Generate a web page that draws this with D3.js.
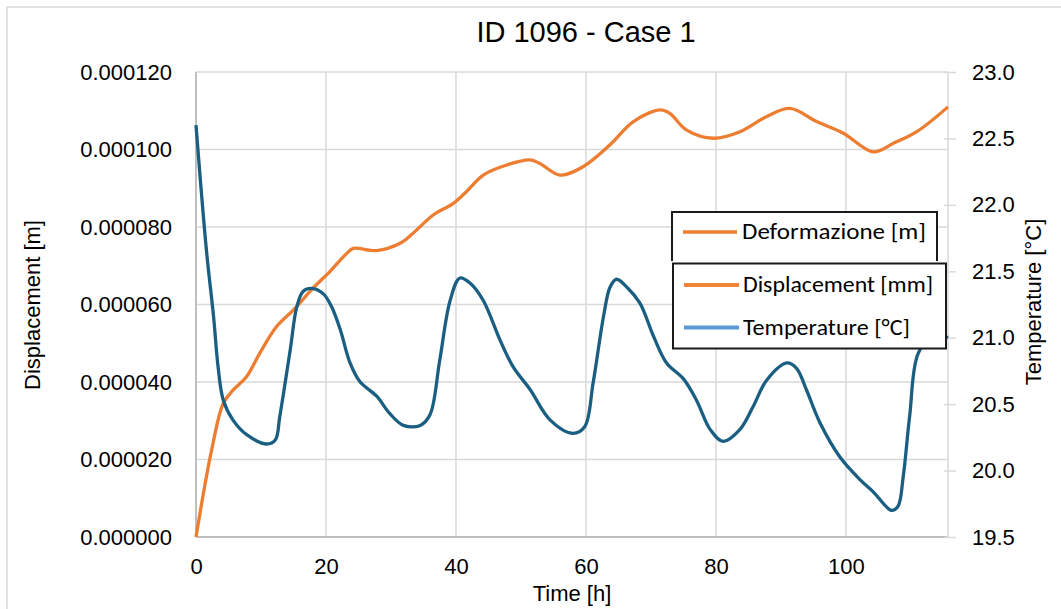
<!DOCTYPE html>
<html>
<head>
<meta charset="utf-8">
<script src="https://cdn.jsdelivr.net/npm/d3@7"></script>
<style>
  body { margin: 0; background: #fff; }
  svg text { font-family: "Liberation Sans", Arial, sans-serif; fill: #000; }
  .legend text { font-family: Carlito, Lato, "Open Sans", sans-serif; }
</style>
</head>
<body>
<svg id="chart" width="1061" height="609"></svg>
<script>
// time [h] and displacement [m]
let dispTime = [0, 2.4, 4.2, 5.7, 7.8, 9.8, 12.4, 15.0, 18.0, 20.6, 23.2, 24.2, 27.8, 31.4, 33.4, 36.5,
  39.6, 41.6, 44.2, 47.8, 51.4, 52.9, 56.0, 59.6, 63.7, 67.3, 71.4, 72.9, 75.5, 79.6, 83.7, 87.8,
  91.4, 95.5, 99.6, 104.2, 107.3, 110.9, 115.7];
let dispValues = [0, 22.4e-6, 34.5e-6, 37.9e-6, 41.4e-6, 47.4e-6, 54.3e-6, 58.6e-6, 64.2e-6, 68.5e-6,
  73.2e-6, 74.5e-6, 73.9e-6, 75.8e-6, 78.4e-6, 83.1e-6, 86.1e-6, 89.1e-6, 93.4e-6, 96.0e-6, 97.3e-6,
  96.4e-6, 93.4e-6, 95.6e-6, 101.2e-6, 107.2e-6, 110.2e-6, 109.3e-6, 105.0e-6, 102.9e-6, 104.6e-6,
  108.5e-6, 110.6e-6, 107.2e-6, 104.2e-6, 99.4e-6, 101.6e-6, 104.6e-6, 111.0e-6];

// time [h] and temperature [°C]
let tempTime = [0, 1.6, 2.7, 3.4, 4.2, 5.7, 7.8, 10.9, 12.2, 12.9, 14.5, 15.5, 16.5, 18.0, 19.6, 20.9,
  22.2, 23.7, 25.2, 27.8, 29.8, 31.9, 34.5, 36.0, 37.5, 39.1, 40.6, 42.2, 44.2, 46.8, 48.8, 51.4,
  54.5, 58.0, 59.8, 61.1, 62.7, 63.7, 64.7, 66.3, 68.3, 70.4, 72.4, 75.0, 77.0, 79.1, 81.1, 83.7,
  85.7, 87.8, 90.9, 92.4, 93.9, 96.0, 99.1, 102.2, 104.2, 107.0, 108.0, 108.8, 109.8, 111.1, 113.5, 115.7];
let tempValues = [22.60, 21.66, 21.16, 20.78, 20.53, 20.38, 20.27, 20.20, 20.23, 20.41, 20.91, 21.23,
  21.35, 21.37, 21.33, 21.23, 21.06, 20.81, 20.67, 20.56, 20.43, 20.34, 20.34, 20.42, 20.83, 21.28,
  21.45, 21.41, 21.28, 20.98, 20.78, 20.61, 20.38, 20.28, 20.33, 20.66, 21.16, 21.38, 21.44, 21.38,
  21.26, 21.01, 20.81, 20.69, 20.53, 20.31, 20.22, 20.31, 20.48, 20.68, 20.81, 20.77, 20.61, 20.36,
  20.10, 19.93, 19.84, 19.70, 19.73, 19.95, 20.41, 20.88, 21.02, 21.0];

let xTicks = [0, 20, 40, 60, 80, 100];
let leftTicks = [0, 0.00002, 0.00004, 0.00006, 0.00008, 0.0001, 0.00012];
let rightTicks = [19.5, 20.0, 20.5, 21.0, 21.5, 22.0, 22.5, 23.0];

let legendTop = ["Deformazione [m]"];
let legendBottom = ["Displacement [mm]", "Temperature [°C]"];

let svg = d3.select("#chart");

let plotLeft = 196, plotRight = 948, plotTop = 72, plotBottom = 537;

let x = d3.scaleLinear().domain([0, 115.7]).range([plotLeft, plotRight]);
let yL = d3.scaleLinear().domain([0, 0.00012]).range([plotBottom, plotTop]);
let yR = d3.scaleLinear().domain([19.5, 23]).range([plotBottom, plotTop]);

// outer frame of the chart
svg.append("rect")
  .attr("x", 7).attr("y", 7)
  .attr("width", 1200).attr("height", 800)
  .attr("fill", "none")
  .attr("stroke", "#d9d9d9")
  .attr("stroke-width", 1.5);

// grid
svg.append("g")
  .selectAll("line")
  .data(leftTicks.slice(1))
  .enter()
  .append("line")
  .attr("x1", plotLeft).attr("x2", plotRight)
  .attr("y1", d => yL(d)).attr("y2", d => yL(d))
  .attr("stroke", "#d9d9d9").attr("stroke-width", 1.5);

svg.append("g")
  .selectAll("line")
  .data(xTicks.slice(1))
  .enter()
  .append("line")
  .attr("x1", d => x(d)).attr("x2", d => x(d))
  .attr("y1", plotTop).attr("y2", plotBottom)
  .attr("stroke", "#d9d9d9").attr("stroke-width", 1.5);

// axis lines
svg.append("line")
  .attr("x1", plotLeft).attr("x2", plotLeft).attr("y1", plotTop).attr("y2", plotBottom)
  .attr("stroke", "#bfbfbf").attr("stroke-width", 2);
svg.append("line")
  .attr("x1", plotLeft).attr("x2", plotRight).attr("y1", plotBottom).attr("y2", plotBottom)
  .attr("stroke", "#bfbfbf").attr("stroke-width", 2);
svg.append("line")
  .attr("x1", plotRight).attr("x2", plotRight).attr("y1", plotTop).attr("y2", plotBottom)
  .attr("stroke", "#d9d9d9").attr("stroke-width", 1.5);

// axes
let gLeft = svg.append("g")
  .attr("transform", `translate(${plotLeft},0)`)
  .call(d3.axisLeft(yL).tickValues(leftTicks).tickFormat(d3.format(".6f")).tickSize(0).tickPadding(24));
let gRight = svg.append("g")
  .attr("transform", `translate(${plotRight},0)`)
  .call(d3.axisRight(yR).tickValues(rightTicks).tickFormat(d3.format(".1f")).tickSize(8).tickPadding(16));
let gBottom = svg.append("g")
  .attr("transform", `translate(0,${plotBottom})`)
  .call(d3.axisBottom(x).tickValues(xTicks).tickFormat(d3.format("d")).tickSize(0).tickPadding(21));

[gLeft, gRight, gBottom].forEach(g => {
  g.select(".domain").remove();
  g.selectAll("text").attr("font-size", 22).attr("font-family", null).attr("fill", "#000");
});
gRight.selectAll(".tick line").attr("x1", -4).attr("stroke", "#d9d9d9").attr("stroke-width", 1.5);

// titles
svg.append("text")
  .attr("x", 586).attr("y", 42)
  .attr("text-anchor", "middle")
  .attr("font-size", 29)
  .text("ID 1096 - Case 1");

svg.append("text")
  .attr("x", 572).attr("y", 601)
  .attr("text-anchor", "middle")
  .attr("font-size", 22)
  .text("Time [h]");

svg.append("text")
  .attr("transform", "translate(40,305) rotate(-90)")
  .attr("text-anchor", "middle")
  .attr("font-size", 22)
  .text("Displacement [m]");

svg.append("text")
  .attr("transform", "translate(1041,302) rotate(-90)")
  .attr("text-anchor", "middle")
  .attr("font-size", 22)
  .text("Temperature [°C]");

// series
let curve = d3.curveCatmullRom.alpha(0.5);

let dispLine = d3.line()
  .x((d, i) => x(dispTime[i]))
  .y(d => yL(d))
  .curve(curve);

let tempLine = d3.line()
  .x((d, i) => x(tempTime[i]))
  .y(d => yR(d))
  .curve(curve);

svg.append("path")
  .datum(dispValues)
  .attr("d", dispLine)
  .attr("fill", "none")
  .attr("stroke", "#ED7D31")
  .attr("stroke-width", 3.3)
  .attr("stroke-linejoin", "round");

svg.append("path")
  .datum(tempValues)
  .attr("d", tempLine)
  .attr("fill", "none")
  .attr("stroke", "#1A5F82")
  .attr("stroke-width", 3.3)
  .attr("stroke-linejoin", "round");

// legend (two pasted boxes)
let legend = svg.append("g").attr("class", "legend");

legend.append("rect")
  .attr("x", 672).attr("y", 212).attr("width", 265).attr("height", 52)
  .attr("fill", "#fff");
legend.append("path")
  .attr("d", "M672,261V212H937V261")
  .attr("fill", "none").attr("stroke", "#1a1a1a").attr("stroke-width", 2);

legend.append("rect")
  .attr("x", 673).attr("y", 263.5).attr("width", 273).attr("height", 85)
  .attr("fill", "#fff").attr("stroke", "#1a1a1a").attr("stroke-width", 2);

legend.append("line")
  .attr("x1", 683).attr("x2", 737).attr("y1", 232).attr("y2", 232)
  .attr("stroke", "#ED7D31").attr("stroke-width", 3.5);
legend.append("text")
  .attr("x", 742).attr("y", 239)
  .attr("font-size", 22.5)
  .attr("fill", "#000")
  .attr("textLength", 184)
  .attr("lengthAdjust", "spacingAndGlyphs")
  .text(legendTop[0]);

let swatchColors = ["#F2853A", "#5B9BD5"];
let legendWidths = [190, 167];
legend.selectAll(".item")
  .data(legendBottom)
  .enter()
  .append("g")
  .each(function(d, i) {
    let g = d3.select(this);
    let yy = 285 + i * 42.5;
    g.append("line")
      .attr("x1", 684).attr("x2", 739).attr("y1", yy).attr("y2", yy)
      .attr("stroke", swatchColors[i]).attr("stroke-width", 4);
    g.append("text")
      .attr("x", 743).attr("y", yy + 7)
      .attr("font-size", 22)
      .attr("fill", "#262626")
      .attr("textLength", legendWidths[i])
      .attr("lengthAdjust", "spacingAndGlyphs")
      .text(d);
  });
</script>
</body>
</html>
